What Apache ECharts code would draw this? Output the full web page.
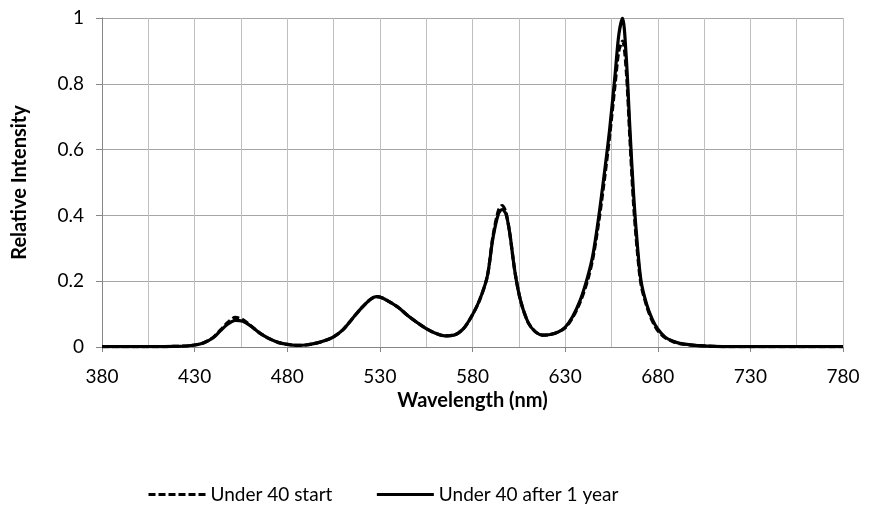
<!DOCTYPE html>
<html>
<head>
<meta charset="utf-8">
<script src="https://cdn.jsdelivr.net/npm/echarts@6/dist/echarts.min.js"></script>
<style>
html,body{margin:0;padding:0;background:#fff;}
#main{width:869px;height:510px;}
</style>
</head>
<body>
<div id="main"></div>
<script>
const wavelengths = [380,390,400,410,420,425,430,435,440,444,448,452,456,460,465,470,475,480,485,490,495,500,505,510,515,520,525,528,531,535,540,545,550,555,560,565,570,575,580,584,588,591,594,596,598,600,603,606,610,614,618,622,626,630,634,638,642,645,648,651,654,657,659,661,663,665,667,669,671,674,677,680,684,688,692,700,710,720,740,760,780];
const startValues = [0.001,0.001,0.001,0.001,0.002,0.003,0.006,0.013,0.029,0.052,0.075,0.09,0.083,0.066,0.043,0.026,0.014,0.008,0.005,0.006,0.011,0.019,0.031,0.052,0.085,0.118,0.145,0.153,0.15,0.138,0.12,0.096,0.075,0.056,0.042,0.034,0.036,0.055,0.098,0.145,0.215,0.335,0.415,0.43,0.41,0.35,0.225,0.14,0.075,0.046,0.036,0.038,0.045,0.058,0.089,0.135,0.2,0.27,0.375,0.5,0.64,0.8,0.9,0.93,0.84,0.63,0.43,0.29,0.19,0.125,0.08,0.05,0.028,0.017,0.01,0.005,0.002,0.001,0.001,0.001,0.001];
const afterYearValues = [0.001,0.001,0.001,0.001,0.002,0.003,0.006,0.013,0.028,0.05,0.07,0.081,0.078,0.065,0.043,0.026,0.014,0.008,0.005,0.006,0.011,0.019,0.031,0.052,0.085,0.118,0.145,0.153,0.15,0.138,0.12,0.096,0.075,0.056,0.042,0.034,0.036,0.055,0.098,0.145,0.215,0.33,0.405,0.418,0.405,0.35,0.225,0.14,0.075,0.046,0.036,0.038,0.045,0.06,0.092,0.14,0.21,0.28,0.39,0.52,0.66,0.83,0.95,1.0,0.88,0.66,0.46,0.31,0.2,0.13,0.085,0.055,0.03,0.018,0.011,0.005,0.002,0.001,0.001,0.001,0.001];
const seriesNames = ['Under 40 start','Under 40 after 1 year'];
const xTitle = 'Wavelength (nm)';
const yTitle = 'Relative Intensity';

const FONT = 'Lato';
const chart = echarts.init(document.getElementById('main'), null, {renderer:'canvas'});
const pair = (vals) => wavelengths.map((w,i)=>[w, vals[i]]);
chart.setOption({
  animation:false,
  backgroundColor:'#fff',
  grid:{left:102,right:26,top:18,bottom:163,containLabel:false},
  legend:{
    left:142, top:480, itemWidth:57, itemHeight:14, itemGap:43,
    textStyle:{fontFamily:FONT,fontSize:19,color:'#000'},
    itemStyle:{opacity:0},
    lineStyle:{width:3},
    data:seriesNames
  },
  xAxis:{
    type:'value', min:380, max:780, interval:50,
    name:xTitle, nameLocation:'middle', nameGap:39,
    nameTextStyle:{fontFamily:FONT,fontSize:20,fontWeight:'bold',color:'#000'},
    axisLine:{show:true,lineStyle:{color:'#868686',width:1}},
    axisTick:{show:true,length:5,lineStyle:{color:'#868686'}},
    minorTick:{show:false,splitNumber:2},
    axisLabel:{fontFamily:FONT,fontSize:19,color:'#000',margin:20},
    splitLine:{show:true,lineStyle:{color:'#bfbfbf',width:1}},
    minorSplitLine:{show:true,lineStyle:{color:'#bfbfbf',width:1}}
  },
  yAxis:{
    type:'value', min:0, max:1, interval:0.2,
    name:yTitle, nameLocation:'middle', nameGap:72, nameRotate:90,
    nameTextStyle:{fontFamily:FONT,fontSize:20,fontWeight:'bold',color:'#000'},
    axisLine:{show:true,lineStyle:{color:'#868686',width:1}},
    axisTick:{show:true,length:6,lineStyle:{color:'#868686'}},
    axisLabel:{fontFamily:FONT,fontSize:19,color:'#000',margin:18,formatter:(v)=>String(+v.toFixed(1))},
    splitLine:{show:true,lineStyle:{color:'#a6a6a6',width:1}}
  },
  series:[
    {name:seriesNames[0],type:'line',data:pair(startValues),showSymbol:false,symbol:'none',
     smooth:0.3,
     lineStyle:{color:'#000',width:3.2,type:[7,3]},itemStyle:{color:'#000'},z:3},
    {name:seriesNames[1],type:'line',data:pair(afterYearValues),showSymbol:false,symbol:'none',
     smooth:0.3,
     lineStyle:{color:'#000',width:3.2,type:'solid'},itemStyle:{color:'#000'},z:2}
  ]
});
</script>
</body>
</html>
